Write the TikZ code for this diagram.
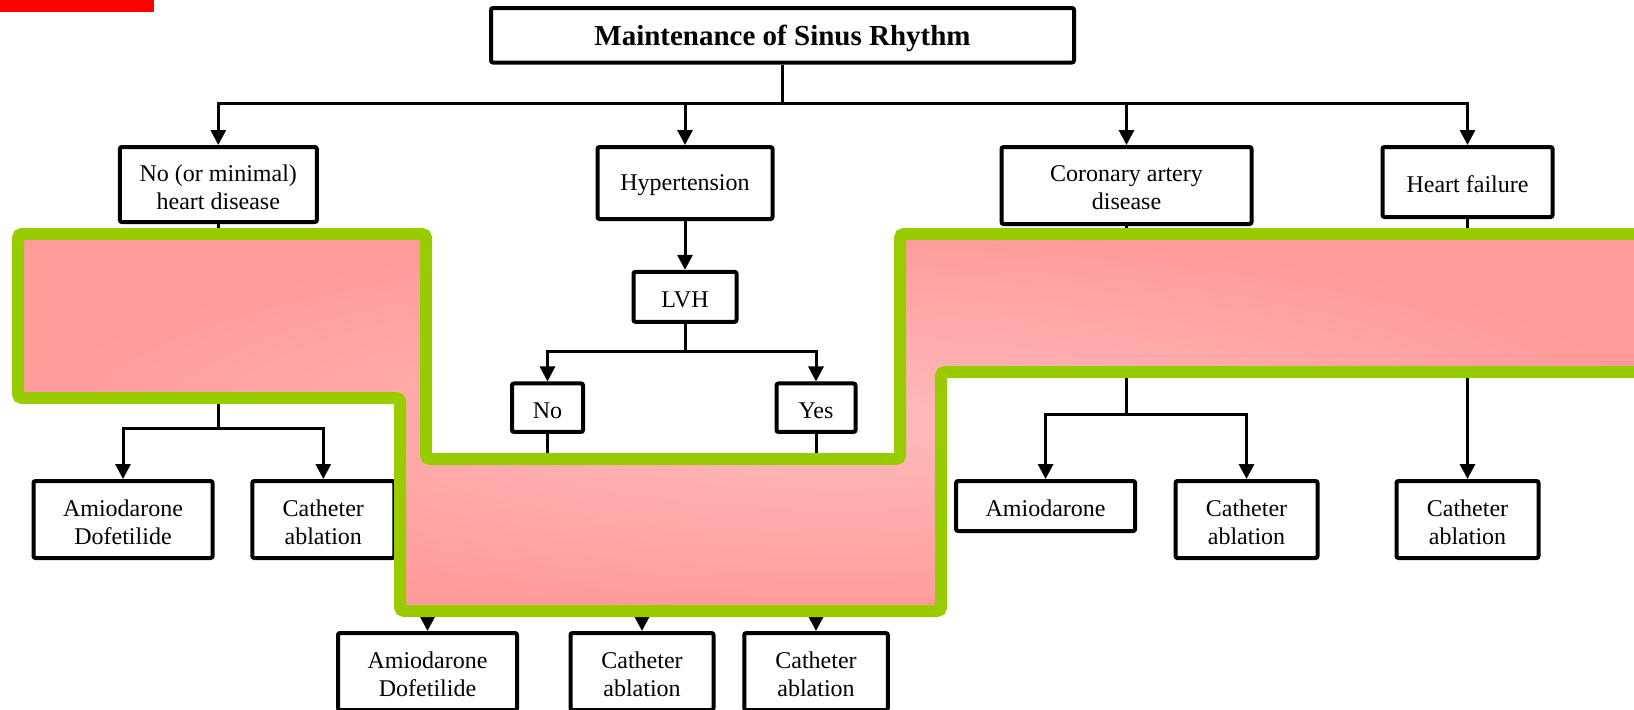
\documentclass[tikz,border=0pt]{standalone}
\usepackage{fontspec}
\setmainfont{Liberation Serif}
\usetikzlibrary{arrows.meta}
\definecolor{bandgreen}{HTML}{99CC00}
\definecolor{pinkdark}{HTML}{FF9B9B}
\definecolor{pinklight}{HTML}{FFBBBB}
\begin{document}
\begin{tikzpicture}[x=0.5pt,y=-0.5pt,
  box/.style={draw, line width=2pt, fill=white, rounded corners=1pt, inner sep=0pt},
  txt/.style={align=center, inner sep=0pt, yshift=-1.3pt, font=\fontsize{12pt}{14pt}\selectfont},
  titletxt/.style={txt, yshift=-0.2pt, font=\fontsize{14.5pt}{16pt}\selectfont\bfseries},
  conn/.style={line width=1.5pt},
  arr/.style={conn, -{Triangle[width=7.5pt,length=7.5pt]}},
  band/.style={draw=bandgreen, line width=6pt, inner color=pinklight, outer color=pinkdark, rounded corners=2pt}]

\useasboundingbox (0,0) rectangle (1634,709);
\clip (0,0) rectangle (1634,709);
\fill[red] (0,0) rectangle (154,11.5);

% nodes
\node[box, minimum width=291.5pt, minimum height=27.25pt, label={[titletxt]center:{Maintenance of Sinus Rhythm}}] (title) at (782.5,35.25) {};
\node[box, minimum width=98.5pt, minimum height=37.5pt, label={[txt]center:{No (or minimal)\\heart disease}}] (nomin) at (218.3,184.5) {};
\node[box, minimum width=87.5pt, minimum height=36pt, label={[txt]center:{Hypertension}}] (hyp) at (685,183) {};
\node[box, minimum width=125pt, minimum height=38.5pt, label={[txt]center:{Coronary artery\\disease}}] (cad) at (1126.5,185.5) {};
\node[box, minimum width=85pt, minimum height=35pt, label={[txt]center:{Heart failure}}] (hf) at (1467.5,182) {};
\node[box, minimum width=51.5pt, minimum height=25pt, label={[txt]center:{LVH}}] (lvh) at (685,296.8) {};
\node[box, minimum width=35.5pt, minimum height=24.25pt, label={[txt]center:{No}}] (no) at (547.5,407.7) {};
\node[box, minimum width=39.5pt, minimum height=24.25pt, label={[txt]center:{Yes}}] (yes) at (816,407.7) {};

\node[box, minimum width=89.5pt, minimum height=38.5pt, label={[txt]center:{Amiodarone\\Dofetilide}}] (la) at (123,519.5) {};
\node[box, minimum width=71pt, minimum height=38.5pt, label={[txt]center:{Catheter\\ablation}}] (lc) at (323.3,519.5) {};
\node[box, minimum width=89.5pt, minimum height=25pt, label={[txt]center:{Amiodarone}}] (ra) at (1045.6,506) {};
\node[box, minimum width=71pt, minimum height=38.5pt, label={[txt]center:{Catheter\\ablation}}] (rc) at (1246.5,519.5) {};
\node[box, minimum width=71pt, minimum height=38.5pt, label={[txt]center:{Catheter\\ablation}}] (hc) at (1467.5,519.5) {};

\node[box, minimum width=89.5pt, minimum height=38.5pt, label={[txt]center:{Amiodarone\\Dofetilide}}] (ma) at (427.5,671.5) {};
\node[box, minimum width=71.5pt, minimum height=38.5pt, label={[txt]center:{Catheter\\ablation}}] (mc1) at (642,671.5) {};
\node[box, minimum width=71.75pt, minimum height=38.5pt, label={[txt]center:{Catheter\\ablation}}] (mc2) at (816,671.5) {};

% connectors
\coordinate (bus) at (782.5,103);
\draw[arr] (title.south) -- (bus) -| (nomin.north);
\draw[arr] (title.south) -- (bus) -| (hyp.north);
\draw[arr] (title.south) -- (bus) -| (cad.north);
\draw[arr] (title.south) -- (bus) -| (hf.north);

\draw[arr] (hyp.south) -- (lvh.north);
\coordinate (lvhfork) at (685,351.5);
\draw[arr] (lvh.south) -- (lvhfork) -| (no.north);
\draw[arr] (lvh.south) -- (lvhfork) -| (yes.north);

\coordinate (nominfork) at (218.3,428);
\draw[arr] (nomin.south) -- (nominfork) -| (la.north);
\draw[arr] (nomin.south) -- (nominfork) -| (lc.north);

\coordinate (nofork) at (547.5,540);
\draw[arr] (no.south) -- (nofork) -| (ma.north);
\draw[arr] (no.south) -- (nofork) -| (mc1.north);
\draw[arr] (yes.south) -- (mc2.north);

\coordinate (cadfork) at (1126.5,414);
\draw[arr] (cad.south) -- (cadfork) -| (ra.north);
\draw[arr] (cad.south) -- (cadfork) -| (rc.north);
\draw[arr] (hf.south) -- (hc.north);

% highlighted band
\shadedraw[band] (18,234) -- (426,234) -- (426,459) -- (900,459) -- (900,234) -- (1660,234) -- (1660,372) -- (941,372) -- (941,611) -- (400,611) -- (400,398) -- (18,398) -- cycle;
\end{tikzpicture}
\end{document}
